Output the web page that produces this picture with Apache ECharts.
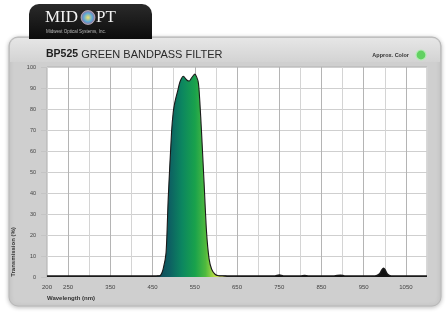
<!DOCTYPE html>
<html><head><meta charset="utf-8">
<script src="https://cdn.jsdelivr.net/npm/echarts@6/dist/echarts.min.js"></script>
<style>html,body{margin:0;padding:0;background:#fff}#c{width:448px;height:315px}</style>
</head><body><div id="c"></div>
<script>
// Passband (green) curve
const passWl = [460, 468, 475, 482, 487, 495, 499, 503, 510, 515, 523, 531, 537, 543, 550, 558, 562, 566, 572, 578, 584, 590, 598, 606, 615, 625];
const passT  = [0.4, 0.6, 3.7, 11.6, 37, 69, 78.6, 83.4, 89, 93, 95.6, 93.8, 93.3, 95.0, 96.6, 93, 83.4, 69, 45, 21, 8.5, 3.7, 1.3, 0.6, 0.45, 0.4];
// Out-of-band baseline
const baseWl = [200, 300, 400, 460, 625, 700, 740, 750, 760, 800, 810, 820, 880, 895, 905, 960, 980, 988, 993, 997, 1001, 1006, 1015, 1040, 1100];
const baseT  = [0.4, 0.4, 0.4, 0.4, 0.4, 0.5, 0.5, 0.9, 0.5, 0.5, 0.7, 0.5, 0.5, 0.8, 0.5, 0.4, 0.6, 1.5, 3.2, 4.2, 3.3, 1.4, 0.5, 0.4, 0.4];
const xLabels = [200, 250, 350, 450, 550, 650, 750, 850, 950, 1050];
const yTicks = [0, 10, 20, 30, 40, 50, 60, 70, 80, 90, 100];

const chart = echarts.init(document.getElementById('c'), null, {renderer: 'canvas'});
const toPairs = (a, b) => a.map((v, i) => [v, b[i]]);

chart.setOption({
  backgroundColor: '#ffffff',
  animation: false,
  title: {
    text: '{b|BP525}{r| GREEN BANDPASS FILTER}',
    left: 46, top: 49, padding: 0,
    textStyle: {
      fontSize: 10,
      rich: {
        b: {fontFamily: 'Liberation Sans', fontWeight: 'bold', fontSize: 10.5, color: '#1e1e1e'},
        r: {fontFamily: 'Liberation Sans', fontWeight: 'normal', fontSize: 11, color: '#2a2a2a'}
      }
    }
  },
  graphic: [
    {type: 'rect', z: -10, shape: {x: 9, y: 37, width: 432, height: 269, r: 9},
      style: {fill: '#cfcfcf', stroke: '#b8b8b8', lineWidth: 1, shadowBlur: 4, shadowColor: 'rgba(0,0,0,0.25)', shadowOffsetY: 1}},
    {type: 'rect', z: -9, shape: {x: 10, y: 38, width: 430, height: 24, r: [8, 8, 0, 0]},
      style: {fill: new echarts.graphic.LinearGradient(0, 0, 0, 1, [{offset: 0, color: '#e6e6e6'}, {offset: 1, color: '#d3d3d3'}])}},
    {type: 'rect', z: 50, shape: {x: 29, y: 4, width: 123, height: 35, r: [10, 10, 0, 0]},
      style: {fill: new echarts.graphic.LinearGradient(0, 0, 0, 1, [{offset: 0, color: '#2a2a2a'}, {offset: 1, color: '#0c0c0c'}])}},
    {type: 'text', z: 51, style: {text: 'MID', x: 45, y: 9, fill: '#f2f2f2', font: '17px "Liberation Serif"'}},
    {type: 'circle', z: 51, shape: {cx: 88, cy: 17.5, r: 7}, style: {fill: new echarts.graphic.RadialGradient(0.5, 0.5, 0.6, [{offset: 0, color: '#f4e36a'}, {offset: 0.5, color: '#5aa8d8'}, {offset: 1, color: '#c04a6a'}]), stroke: '#ddd', lineWidth: 0.6}},
    {type: 'text', z: 51, style: {text: 'PT', x: 96, y: 9, fill: '#f2f2f2', font: '17px "Liberation Serif"'}},
    {type: 'text', z: 51, style: {text: 'Midwest Optical Systems, Inc.', x: 46, y: 29, fill: '#bbbbbb', font: '4.5px "Liberation Sans"'}},
    {type: 'text', z: 5, style: {text: 'Approx. Color', x: 409, y: 55, align: 'right', verticalAlign: 'middle', fill: '#333', font: 'bold 5.5px "Liberation Sans"'}},
    {type: 'circle', z: 5, shape: {cx: 421, cy: 55, r: 5}, style: {fill: '#62d162', stroke: '#b6ecb6', lineWidth: 1.2}},
    {type: 'text', z: 5, style: {text: 'Wavelength (nm)', x: 47, y: 298, verticalAlign: 'middle', fill: '#333', font: 'bold 6px "Liberation Sans"'}},
    {type: 'text', z: 5, rotation: Math.PI / 2, x: 13, y: 252,
      style: {text: 'Transmission (%)', align: 'center', verticalAlign: 'middle', fill: '#333', font: 'bold 6px "Liberation Sans"'}}
  ],
  grid: {left: 47, right: 21, top: 67, bottom: 38, show: true, backgroundColor: '#ffffff', borderColor: '#b0b0b0', borderWidth: 1},
  xAxis: {
    type: 'value', min: 200, max: 1100, interval: 50,
    axisLine: {show: false}, axisTick: {show: false},
    splitLine: {show: true, lineStyle: {color: ['#d4d4d4', '#b4b4b4'], width: 1}},
    axisLabel: {
      fontSize: 6, color: '#444', fontFamily: 'Liberation Sans', margin: 7,
      formatter: v => (xLabels.indexOf(v) >= 0 ? String(v) : ''),
      showMaxLabel: false
    }
  },
  yAxis: {
    type: 'value', min: 0, max: 100, interval: 10,
    axisLine: {show: false},
    axisTick: {show: true, length: 6, lineStyle: {color: '#c4c4c4'}},
    splitLine: {show: true, lineStyle: {color: '#cfcfcf', width: 1}},
    axisLabel: {fontSize: 5.5, color: '#444', fontFamily: 'Liberation Sans', margin: 11,
      formatter: v => (yTicks.indexOf(v) >= 0 ? String(v) : '')}
  },
  series: [
    {
      type: 'line', data: toPairs(baseWl, baseT), symbol: 'none', smooth: 0.3, z: 3,
      lineStyle: {color: '#1a1a1a', width: 1.6},
      areaStyle: {color: '#111', opacity: 1}
    },
    {
      type: 'line', data: toPairs(passWl, passT), symbol: 'none', smooth: 0.25, z: 4,
      lineStyle: {color: '#1a1a1a', width: 1.1},
      areaStyle: {
        opacity: 1,
        color: new echarts.graphic.LinearGradient(0, 0, 1, 0, [
          {offset: 0, color: '#0e4656'},
          {offset: 0.18, color: '#0d5f62'},
          {offset: 0.36, color: '#0c8660'},
          {offset: 0.55, color: '#19a24c'},
          {offset: 0.7, color: '#4fba3e'},
          {offset: 0.84, color: '#bfe046'},
          {offset: 1, color: '#f2f27a'}
        ])
      }
    }
  ]
});
</script></body></html>
